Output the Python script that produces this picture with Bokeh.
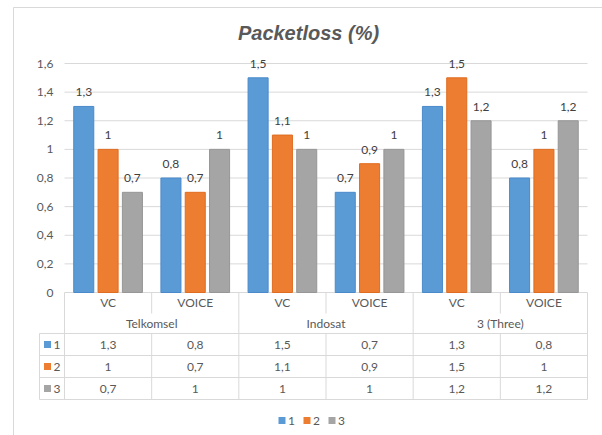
from bokeh.plotting import figure
from bokeh.models import Range1d
from bokeh.core.properties import value
from bokeh.embed import file_html
from bokeh.resources import INLINE

# ---------------- data ----------------
title_text = "Packetloss (%)"
groups = ["Telkomsel", "Indosat", "3 (Three)"]
subcats = ["VC", "VOICE"]
series_names = ["1", "2", "3"]
series_1 = [1.3, 0.8, 1.5, 0.7, 1.3, 0.8]
series_2 = [1.0, 0.7, 1.1, 0.9, 1.5, 1.0]
series_3 = [0.7, 1.0, 1.0, 1.0, 1.2, 1.2]
yticks = [0, 0.2, 0.4, 0.6, 0.8, 1.0, 1.2, 1.4, 1.6]
ytick_labels = ["0", "0,2", "0,4", "0,6", "0,8", "1", "1,2", "1,4", "1,6"]

# ---------------- style / layout ----------------
colors = ["#5B9BD5", "#ED7D31", "#A5A5A5"]
edge_colors = ["#4A8ACB", "#E06C20", "#969696"]
txt_col = "#595959"
line_col = "#D9D9D9"
FONT = value("Lato")

W, H = 602, 435
PX0, PX1 = 64, 587            # pixel span of the category axis
PY0, PYTOP = 292, 63          # pixel of value 0 and of value 1.6
NCAT = len(groups) * len(subcats)
CW = (PX1 - PX0) / NCAT
VH = (PY0 - PYTOP) / yticks[-1]


def X(px):
    return (px - PX0) / CW


def Y(py):
    return (PY0 - py) / VH


def fmt(v):
    return f"{v:g}".replace(".", ",")


p = figure(width=W, height=H, output_backend="svg", toolbar_location=None,
           x_range=Range1d(X(0), X(W)), y_range=Range1d(Y(H), Y(0)),
           x_axis_location=None, y_axis_location=None, min_border=0,
           outline_line_color=None, background_fill_color="white",
           border_fill_color="white")
p.xgrid.visible = False
p.ygrid.visible = False

# outer chart border (top + left)
p.segment(x0=[X(13), X(13)], y0=[Y(7), Y(7)], x1=[X(W + 5), X(13)], y1=[Y(7), Y(H + 5)],
          line_color=line_col, line_width=1)

# title
p.text(x=[X(308)], y=[Y(32)], text=[title_text], text_align="center",
       text_baseline="middle", text_font=value("Liberation Sans"),
       text_font_style="bold italic", text_font_size="20px", text_color=txt_col)

# gridlines (value 0 line doubles as table top)
p.segment(x0=[0] * len(yticks), x1=[NCAT] * len(yticks), y0=yticks, y1=yticks,
          line_color=line_col, line_width=1)

# y tick labels
p.text(x=[X(53)] * len(yticks), y=yticks, text=ytick_labels, text_align="right",
       text_baseline="middle", text_font=FONT, text_font_size="12px", text_color=txt_col)

# bars
series = [series_1, series_2, series_3]
offsets = [-0.279, 0.0, 0.279]
bar_w = 0.23
for k, vals in enumerate(series):
    xs = [i + 0.5 + offsets[k] for i in range(NCAT)]
    p.vbar(x=xs, top=vals, bottom=0, width=bar_w, fill_color=colors[k],
           line_color=edge_colors[k], line_width=1)
    p.text(x=xs, y=vals, text=[fmt(v) for v in vals], text_align="center",
           text_baseline="middle", y_offset=-14, text_font=FONT,
           text_font_size="12px", text_color="#404040")

# ---------------- data table ----------------
row_lines = [333, 355, 377, 399]
row_centers = [344, 366, 388]
# horizontal lines
p.segment(x0=[X(39)] * len(row_lines), x1=[NCAT] * len(row_lines),
          y0=[Y(r) for r in row_lines], y1=[Y(r) for r in row_lines],
          line_color=line_col, line_width=1)
# outer verticals
p.segment(x0=[X(39), 0], x1=[X(39), 0], y0=[Y(333), Y(292)], y1=[Y(399), Y(399)],
          line_color=line_col, line_width=1)
# group separators (full height)
gsep = [2 * (g + 1) for g in range(len(groups))]
p.segment(x0=gsep, x1=gsep, y0=[Y(292)] * len(gsep), y1=[Y(399)] * len(gsep),
          line_color=line_col, line_width=1)
# subcategory separators (sub row + value rows)
ssep = [2 * g + 1 for g in range(len(groups))]
p.segment(x0=ssep, x1=ssep, y0=[Y(292)] * len(ssep), y1=[Y(313)] * len(ssep),
          line_color=line_col, line_width=1)
p.segment(x0=ssep, x1=ssep, y0=[Y(333)] * len(ssep), y1=[Y(399)] * len(ssep),
          line_color=line_col, line_width=1)

# header texts
p.text(x=[i + 0.5 for i in range(NCAT)], y=[Y(302)] * NCAT,
       text=[subcats[i % 2] for i in range(NCAT)], text_align="center",
       text_baseline="middle", text_font=FONT, text_font_size="12px", text_color=txt_col)
p.text(x=[2 * g + 1 for g in range(len(groups))], y=[Y(323)] * len(groups), text=groups,
       text_align="center", text_baseline="middle", text_font=FONT,
       text_font_size="12px", text_color=txt_col)

# value rows
for k, vals in enumerate(series):
    yy = Y(row_centers[k])
    p.scatter(x=[X(47)], y=[yy], marker="square", size=7, fill_color=colors[k],
              line_color=None)
    p.text(x=[X(53)], y=[yy], text=[series_names[k]], text_align="left",
           text_baseline="middle", text_font=FONT, text_font_size="12px", text_color=txt_col)
    p.text(x=[i + 0.5 for i in range(NCAT)], y=[yy] * NCAT, text=[fmt(v) for v in vals],
           text_align="center", text_baseline="middle", text_font=FONT,
           text_font_size="12px", text_color=txt_col)

# bottom legend
leg_sq = [281.5, 306.5, 331.5]
for k in range(len(series_names)):
    p.scatter(x=[X(leg_sq[k])], y=[Y(420)], marker="square", size=7,
              fill_color=colors[k], line_color=None)
    p.text(x=[X(leg_sq[k] + 6)], y=[Y(420)], text=[series_names[k]], text_align="left",
           text_baseline="middle", text_font=FONT, text_font_size="12px", text_color=txt_col)

open("out.html", "w").write(file_html(p, INLINE))
